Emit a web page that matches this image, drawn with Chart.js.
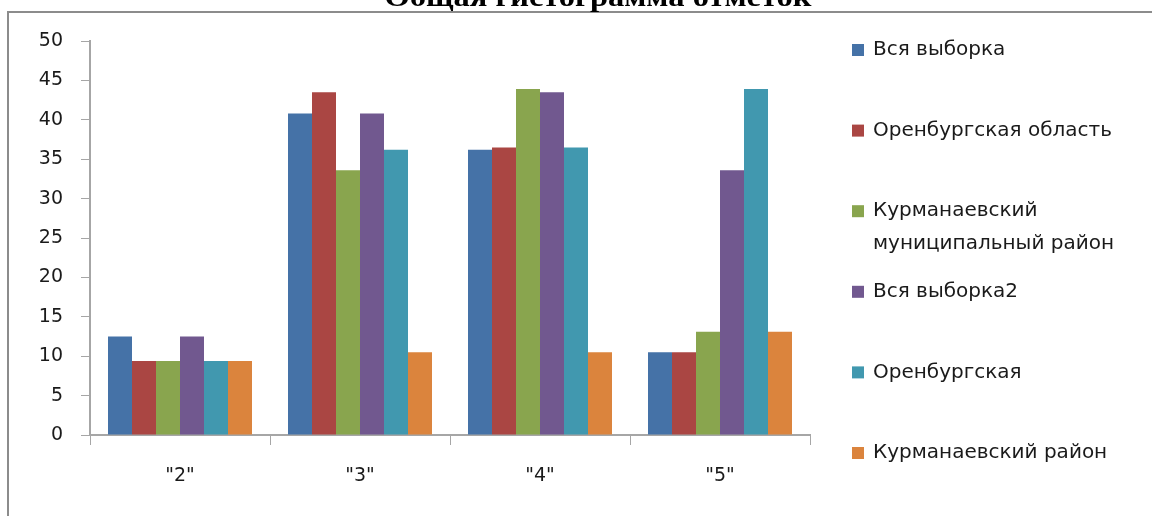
<!DOCTYPE html>
<html>
<head>
<meta charset="utf-8">
<script src="https://cdn.jsdelivr.net/npm/chart.js@4.4.1/dist/chart.umd.min.js"></script>
<style>
  html, body {margin: 0; padding: 0; background: #fff;}
  canvas {display: block;}
</style>
</head>
<body>
<canvas id="marks-chart" width="1152" height="516"></canvas>
<script>
const chartTitle = 'Общая гистограмма отметок';
const grades = ['"2"', '"3"', '"4"', '"5"'];
const yTicks = [0, 5, 10, 15, 20, 25, 30, 35, 40, 45, 50];

const seriesNames = [
    'Вся выборка',
    'Оренбургская область',
    ['Курманаевский', 'муниципальный район'],
    'Вся выборка2',
    'Оренбургская',
    'Курманаевский район'
];
const allSample = [12.5, 40.8, 36.2, 10.5];
const orenburgRegion = [9.4, 43.5, 36.5, 10.5];
const kurmanMunicipal = [9.4, 33.6, 43.9, 13.1];
const allSample2 = [12.5, 40.8, 43.5, 33.6];
const orenburg = [9.4, 36.2, 36.5, 43.9];
const kurmanDistrict = [9.4, 10.5, 10.5, 13.1];
const seriesColors = ['#4572A7', '#AA4643', '#89A54E', '#71588F', '#4198AF', '#DB843D'];

const FONT = '"DejaVu Sans", sans-serif';
const AXIS_GRAY = '#a6a6a6';

const seriesValues = [allSample, orenburgRegion, kurmanMunicipal, allSample2, orenburg, kurmanDistrict];

// frame, title and legend drawn onto the canvas
const decorations = {
    id: 'decorations',
    afterDraw(chart) {
        const ctx = chart.ctx;
        ctx.save();
        ctx.strokeStyle = '#8c8c8c';
        ctx.lineWidth = 2;
        ctx.beginPath();
        ctx.moveTo(8, 516);
        ctx.lineTo(8, 12);
        ctx.lineTo(1152, 12);
        ctx.stroke();

        ctx.fillStyle = '#000';
        ctx.font = 'bold 28px "Liberation Serif", serif';
        ctx.textBaseline = 'alphabetic';
        const w = ctx.measureText(chartTitle).width;
        const sx = 427 / w;
        ctx.save();
        ctx.translate(598, 6);
        ctx.scale(sx, 1);
        ctx.textAlign = 'center';
        ctx.fillText(chartTitle, 0, 0);
        ctx.restore();

        ctx.font = '20px ' + FONT;
        ctx.textAlign = 'left';
        ctx.textBaseline = 'middle';
        chart.data.datasets.forEach((ds, i) => {
            const y = 50 + 80.6 * i;
            ctx.fillStyle = ds.backgroundColor;
            ctx.fillRect(852, y - 6, 12, 12);
            ctx.fillStyle = '#1a1a1a';
            const lines = Array.isArray(seriesNames[i]) ? seriesNames[i] : [seriesNames[i]];
            lines.forEach((t, k) => ctx.fillText(t, 873, y + k * 33));
        });
        ctx.restore();
    }
};

new Chart(document.getElementById('marks-chart'), {
    type: 'bar',
    data: {
        labels: grades,
        datasets: seriesValues.map((vals, i) => ({
            label: Array.isArray(seriesNames[i]) ? seriesNames[i].join(' ') : seriesNames[i],
            data: vals,
            backgroundColor: seriesColors[i],
            borderWidth: 0,
            categoryPercentage: 0.8,
            barPercentage: 1.0
        }))
    },
    options: {
        responsive: false,
        animation: false,
        layout: {padding: {left: 0, right: 342, top: 41, bottom: 0}},
        plugins: {legend: {display: false}, title: {display: false}, tooltip: {enabled: false}},
        scales: {
            x: {
                grid: {display: true, drawOnChartArea: false, tickLength: 10, color: AXIS_GRAY, offset: true},
                border: {color: AXIS_GRAY, width: 2},
                ticks: {font: {family: FONT, size: 19}, color: '#1a1a1a', padding: 20},
                afterFit(scale) { scale.height = 81; }
            },
            y: {
                min: 0,
                max: 50,
                afterBuildTicks(scale) { scale.ticks = yTicks.map(v => ({value: v})); },
                grid: {display: true, drawOnChartArea: false, tickLength: 9, color: AXIS_GRAY},
                border: {color: AXIS_GRAY, width: 2},
                ticks: {font: {family: FONT, size: 19}, color: '#1a1a1a', padding: 18},
                afterFit(scale) { scale.width = 90; }
            }
        }
    },
    plugins: [decorations]
});
</script>
</body>
</html>
